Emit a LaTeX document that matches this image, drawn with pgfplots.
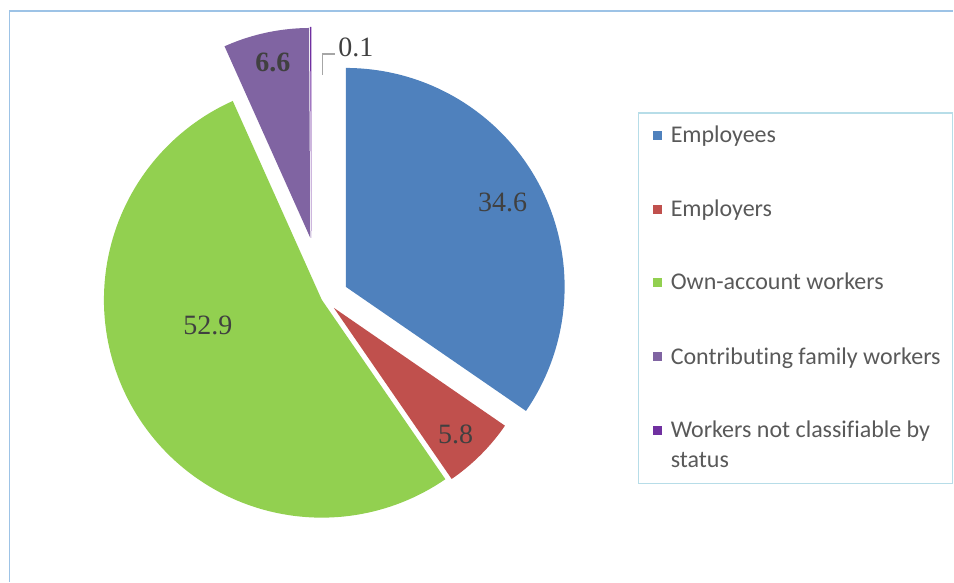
\documentclass[border=0pt]{standalone}
\usepackage{pgfplots}
\pgfplotsset{compat=1.18}
\usepackage{fontspec}
\setmainfont{Liberation Serif}
\newfontfamily\legfont[Ligatures={NoCommon,NoDiscretionary}]{Carlito}
\definecolor{cEmp}{HTML}{4F81BD}
\definecolor{cEmpr}{HTML}{C0504D}
\definecolor{cOwn}{HTML}{92D050}
\definecolor{cFam}{HTML}{8064A2}
\definecolor{cNot}{HTML}{7030A0}
\definecolor{frameblue}{HTML}{9DC3E6}
\definecolor{legborder}{HTML}{B7DDE8}
\definecolor{labtext}{HTML}{404040}
\definecolor{legtext}{HTML}{595959}
\definecolor{leader}{HTML}{A6A6A6}
% slice: colour, apex x, apex y (pixels, y down), radius, cumulative share before, share
\newcommand{\slice}[6]{%
  \pgfmathsetmacro\sa{90-3.6*(#5+#6)}%
  \pgfmathsetmacro\sb{90-3.6*(#5)}%
  \edef\temp{\noexpand\addplot[fill=#1, draw=none, domain=\sa:\sb, samples=120]
    ({#2+#4*cos(x)},{#3-#4*sin(x)}) -- (axis cs:#2,#3) -- cycle;}%
  \temp
}
\begin{document}
\begin{tikzpicture}
\begin{axis}[
  scale only axis, width=954pt, height=582pt,
  xmin=0, xmax=954, ymin=0, ymax=582, y dir=reverse,
  hide axis, clip=false,
]
\path (axis cs:0,0) rectangle (axis cs:954,582);
% outer frame
\draw[frameblue, line width=1.3pt] (axis cs:9.5,582) -- (axis cs:9.5,11) -- (axis cs:954,11);
% slices (values in percent): 34.6, 5.8, 52.9, 6.6, 0.1
\slice{cEmp}{346}{287}{219}{0}{34.6}
\slice{cEmpr}{334}{308}{208}{34.6}{5.8}
\slice{cOwn}{322}{300}{218}{40.4}{52.9}
\slice{cFam}{310.5}{238}{210}{93.3}{6.6}
\slice{cNot}{311.5}{238}{211}{99.9}{0.1}
% data labels
\node[labtext, font=\fontsize{28}{30}\selectfont, inner sep=0pt] at (axis cs:503,203) {34.6};
\node[labtext, font=\fontsize{28}{30}\selectfont, inner sep=0pt] at (axis cs:456,435) {5.8};
\node[labtext, font=\fontsize{28}{30}\selectfont, inner sep=0pt] at (axis cs:208,326) {52.9};
\node[labtext, font=\fontsize{28}{30}\selectfont\bfseries, inner sep=0pt] at (axis cs:273,62) {6.6};
\node[labtext, font=\fontsize{28}{30}\selectfont, inner sep=0pt] at (axis cs:356,47) {0.1};
\draw[leader, line width=1.2pt] (axis cs:323,75) -- (axis cs:323,54) -- (axis cs:335,54);
% legend
\draw[legborder, line width=1.2pt] (axis cs:639,113) rectangle (axis cs:953,484);
\fill[cEmp]  (axis cs:653.5,131.5) rectangle (axis cs:662.5,140.5);
\fill[cEmpr] (axis cs:653.5,205.5) rectangle (axis cs:662.5,214.5);
\fill[cOwn]  (axis cs:653.5,278.5) rectangle (axis cs:662.5,287.5);
\fill[cFam]  (axis cs:653.5,352.5) rectangle (axis cs:662.5,361.5);
\fill[cNot]  (axis cs:653.5,426.5) rectangle (axis cs:662.5,435.5);
\begin{scope}[every node/.style={legtext, anchor=base west, inner sep=0pt, font=\legfont\fontsize{24}{28}\selectfont}]
\node at (axis cs:671,143) {Employees};
\node at (axis cs:671,217) {Employers};
\node at (axis cs:671,290) {Own-account workers};
\node at (axis cs:671,365) {Contributing family workers};
\node at (axis cs:671,438) {Workers not classifiable by};
\node at (axis cs:671,468) {status};
\end{scope}
\end{axis}
\end{tikzpicture}
\end{document}
